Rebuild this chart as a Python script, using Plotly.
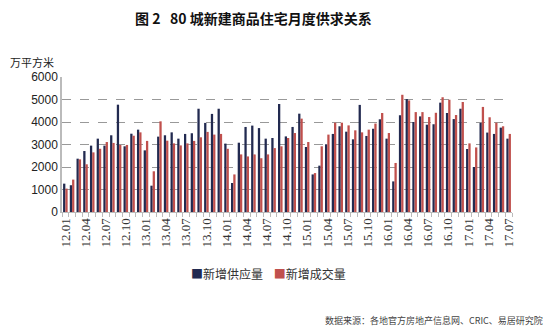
import plotly.graph_objects as go

# Months 2012.01 - 2017.07
months = [f"{y:02d}.{m:02d}" for y in range(12, 18) for m in range(1, 13)][:67]

# New supply (10k m²)
supply = [1260, 1190, 2370, 2710, 2950, 3260, 2950, 3410, 4770, 2920, 3480, 3660,
          2740, 1170, 3350, 3410, 3540, 3260, 3470, 3500, 4590, 3960, 4360, 4590,
          3040, 1290, 3080, 3780, 3840, 3730, 3260, 3290, 4800, 3360, 3780, 4370,
          2890, 1670, 2060, 3010, 3470, 3810, 3570, 3230, 4760, 3380, 3700, 4120,
          3260, 1360, 4300, 5020, 4000, 4250, 3880, 3900, 4860, 4400, 4130, 4590,
          2800, 2000, 3960, 3530, 3470, 3750, 3260]

# New transactions (10k m²)
sales = [1040, 1440, 2340, 2120, 2650, 2810, 3110, 3070, 2980, 2980, 3390, 3540,
         3160, 1810, 4030, 3170, 3050, 2960, 3050, 3160, 3320, 3560, 3440, 3470,
         2810, 1670, 2560, 2470, 2560, 2390, 2560, 2840, 2920, 3290, 3510, 4150,
         3110, 1730, 2920, 3440, 3970, 3970, 3850, 3630, 3540, 3660, 3930, 4400,
         3510, 2180, 5210, 4960, 4440, 4440, 4220, 4410, 5100, 4990, 4310, 4890,
         3050, 2870, 4670, 4210, 3970, 3810, 3470]

series_names = ["新增供应量", "新增成交量"]
series_colors = ["#222a50", "#c0504d"]

tick_text = [m if i % 3 == 0 else "" for i, m in enumerate(months)]

cjk = "Noto Sans CJK SC"

fig = go.Figure()
for vals, name, color in zip([supply, sales], series_names, series_colors):
    fig.add_trace(go.Bar(x=months, y=vals, name=name, marker_color=color,
                         marker_line_width=0))

fig.update_layout(
    width=550, height=330,
    margin=dict(l=62, r=38, t=77, b=118),
    paper_bgcolor="white", plot_bgcolor="white",
    barmode="group", bargap=0.32, bargroupgap=0,
    font=dict(family=cjk, size=11, color="#222"),
    showlegend=False,
)

fig.update_xaxes(
    type="category", tickmode="array", tickvals=months, ticktext=tick_text,
    tickson="boundaries", ticks="outside", ticklen=4, tickcolor="#bbb",
    tickangle=-90, tickfont=dict(family="Liberation Serif", size=13, color="#333"),
    showline=True, linecolor="#bbb", linewidth=1, showgrid=False,
)
fig.update_yaxes(
    range=[0, 6000], dtick=1000, showgrid=True, gridcolor="#999", griddash="dash",
    gridwidth=0.6, showline=True, linecolor="#bbb", linewidth=1.5, ticks="",
    tickfont=dict(family="Liberation Sans", size=12, color="#222"), zeroline=False,
)

# Legend drawn as a single text line with coloured square markers
legend_text = "&nbsp;&nbsp;&nbsp;&nbsp;".join(
    f"<span style='color:{c}'>■</span>{n}" for n, c in zip(series_names, series_colors)
)
fig.add_annotation(text=legend_text, xref="paper", yref="paper",
                   x=(268 - 62) / 450, y=-(273 - 212) / 135, xanchor="center", yanchor="middle",
                   showarrow=False, font=dict(family=cjk, size=12, color="#333"))

fig.add_annotation(text="<b>图 2   80 城新建商品住宅月度供求关系</b>", xref="paper", yref="paper",
                   x=(253 - 62) / 450, y=1 + (77 - 18) / 135, xanchor="center", yanchor="middle",
                   showarrow=False, font=dict(family=cjk, size=14, color="#111"))
fig.add_annotation(text="万平方米", xref="paper", yref="paper",
                   x=-(62 - 8) / 450, y=1 + (77 - 62) / 135, xanchor="left", yanchor="middle",
                   showarrow=False, font=dict(family=cjk, size=11, color="#222"))
fig.add_annotation(text="数据来源：各地官方房地产信息网、CRIC、易居研究院", xref="paper", yref="paper",
                   x=1 + (545 - 512) / 450, y=-(320 - 212) / 135, xanchor="right", yanchor="middle",
                   showarrow=False, font=dict(family=cjk, size=9, color="#444"))

fig.write_html("out.html")
